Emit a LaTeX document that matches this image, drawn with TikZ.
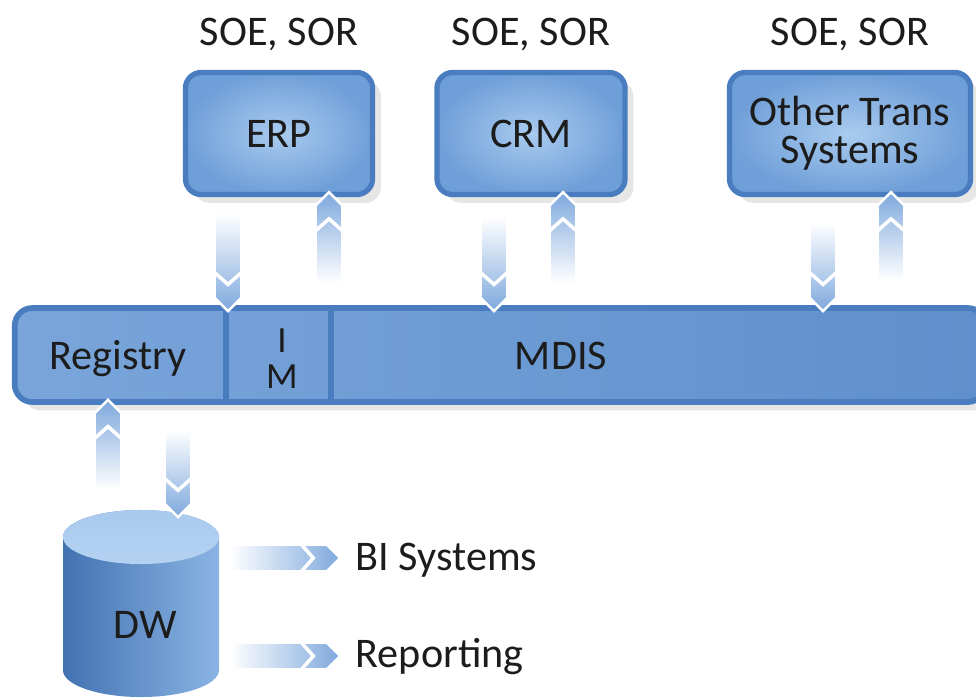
\documentclass[tikz,border=0pt]{standalone}
\usepackage{fontspec}
\setmainfont{Carlito}
\usetikzlibrary{positioning}
\usetikzlibrary{calc, shadows}

\definecolor{boxrim}{HTML}{4A7DBF}
\definecolor{boxlight}{HTML}{A9CBEF}
\definecolor{boxmid}{HTML}{6F9FD8}
\definecolor{busleft}{HTML}{79A5DA}
\definecolor{busmid}{HTML}{A6C8EE}
\definecolor{busright}{HTML}{5F8FCC}
\definecolor{flowblue}{HTML}{7EA8DD}
\definecolor{cyldark}{HTML}{4272B2}
\definecolor{cyllight}{HTML}{A9CAEE}
\definecolor{cylright}{HTML}{8AB4E3}
\definecolor{cyltop}{HTML}{B4D1F1}
\definecolor{ink}{HTML}{1C1C1C}

\tikzset{
  sysbox/.style={draw=boxrim, line width=1.5pt, rounded corners=4.5pt, inner color=boxlight, outer color=boxmid, text=ink, font=\fontsize{12}{10.8}\selectfont, align=center, drop shadow={opacity=0.2}},
  busbar/.style={draw=boxrim, line width=1.6pt, rounded corners=5pt, left color=busleft, middle color=busmid, right color=busright, drop shadow={opacity=0.2}},
  tag/.style={text=ink, font=\fontsize{12}{14}\selectfont, inner sep=0pt},
  down fade/.style={top color=white, bottom color=flowblue},
  up fade/.style={top color=flowblue, bottom color=white},
  right fade/.style={left color=white, right color=flowblue},
}

% fat chevron arrow: #1 fade, #2 tail, #3 tip
\newcommand{\fatarrow}[3]{%
  \coordinate (fa-t) at (#2);
  \coordinate (fa-p) at (#3);
  \coordinate (fa-h) at ($(fa-p)!3.8pt!(fa-t)$);
  \coordinate (fa-n) at ($(fa-p)!7.6pt!(fa-t)$);
  \coordinate (fa-m) at ($(fa-n)!3.8pt!(fa-t)$);
  \filldraw[#1, draw=white, line width=0.7pt, line join=miter]
    ($(fa-t)!3.8pt!90:(fa-p)$) -- ($(fa-h)!3.8pt!90:(fa-p)$) -- (fa-p)
    -- ($(fa-h)!3.8pt!-90:(fa-p)$) -- ($(fa-t)!3.8pt!-90:(fa-p)$) -- cycle;
  \draw[white, line width=1pt, line join=miter]
    ($(fa-m)!4.3pt!90:(fa-p)$) -- (fa-n) -- ($(fa-m)!4.3pt!-90:(fa-p)$);
}

\begin{document}
\begin{tikzpicture}[x=0.01cm, y=-0.01cm]
\useasboundingbox (0,0) rectangle (976,697);
\clip (0,0) rectangle (976,697);

\node[sysbox, minimum width=1.87cm, minimum height=1.22cm] (erp) at (279,133.5) {ERP};
\node[sysbox, minimum width=1.88cm, minimum height=1.22cm] (crm) at (531,133.5) {CRM};
\node[sysbox, minimum width=2.41cm, minimum height=1.22cm] (other) at (850,133.5) {Other Trans\\Systems};
\node[tag, above=0.18cm of erp] (soe1) {SOE, SOR};
\node[tag, above=0.18cm of crm] (soe2) {SOE, SOR};
\node[tag, above=0.18cm of other] (soe3) {SOE, SOR};

\node[busbar, minimum width=9.7cm, minimum height=0.94cm] (bus) at (500,355) {};
\draw[boxrim, line width=1.6pt] (226,0 |- bus.north) -- (226,0 |- bus.south);
\draw[boxrim, line width=1.6pt] (331,0 |- bus.north) -- (331,0 |- bus.south);
\node[tag, anchor=base] (registry) at (118,369) {Registry};
\node[tag, font=\fontsize{10.5}{10.2}\selectfont, align=center] (im) at (282,359) {I\\M};
\node[tag, anchor=base] (mdis) at (561,369) {MDIS};

% data warehouse
\shade[left color=cyldark, middle color=cyllight, right color=cylright]
  (63,670) -- (63,537) arc[start angle=180, end angle=0, x radius=0.78cm, y radius=0.27cm]
  -- (219,670) arc[start angle=0, end angle=-180, x radius=0.78cm, y radius=0.27cm] -- cycle;
\shade[top color=cyllight, bottom color=cyltop] (141,537) ellipse [x radius=0.78cm, y radius=0.27cm];
\node[tag, anchor=base] (dw) at (145,638) {DW};
\coordinate (dwtop) at (178,517);

\node[tag, anchor=base west] (bi) at (355,570) {BI Systems};
\node[tag, anchor=base west] (rep) at (355,667) {Reporting};

\fatarrow{down fade}{228,213}{$(228,0 |- bus.north)+(0,6)$}
\fatarrow{up fade}{329,283}{$(329,0 |- erp.south)+(0,-5)$}
\fatarrow{down fade}{494,217}{$(494,0 |- bus.north)+(0,6)$}
\fatarrow{up fade}{563,283}{$(563,0 |- crm.south)+(0,-5)$}
\fatarrow{down fade}{823,223}{$(823,0 |- bus.north)+(0,6)$}
\fatarrow{up fade}{891,280}{$(891,0 |- other.south)+(0,-5)$}
\fatarrow{up fade}{108,490}{$(108,0 |- bus.south)+(0,-5)$}
\fatarrow{down fade}{178,430}{dwtop}
\fatarrow{right fade}{230,558}{$(bi.base west)+(-15,-12)$}
\fatarrow{right fade}{230,656}{$(rep.base west)+(-15,-11)$}

\end{tikzpicture}
\end{document}
